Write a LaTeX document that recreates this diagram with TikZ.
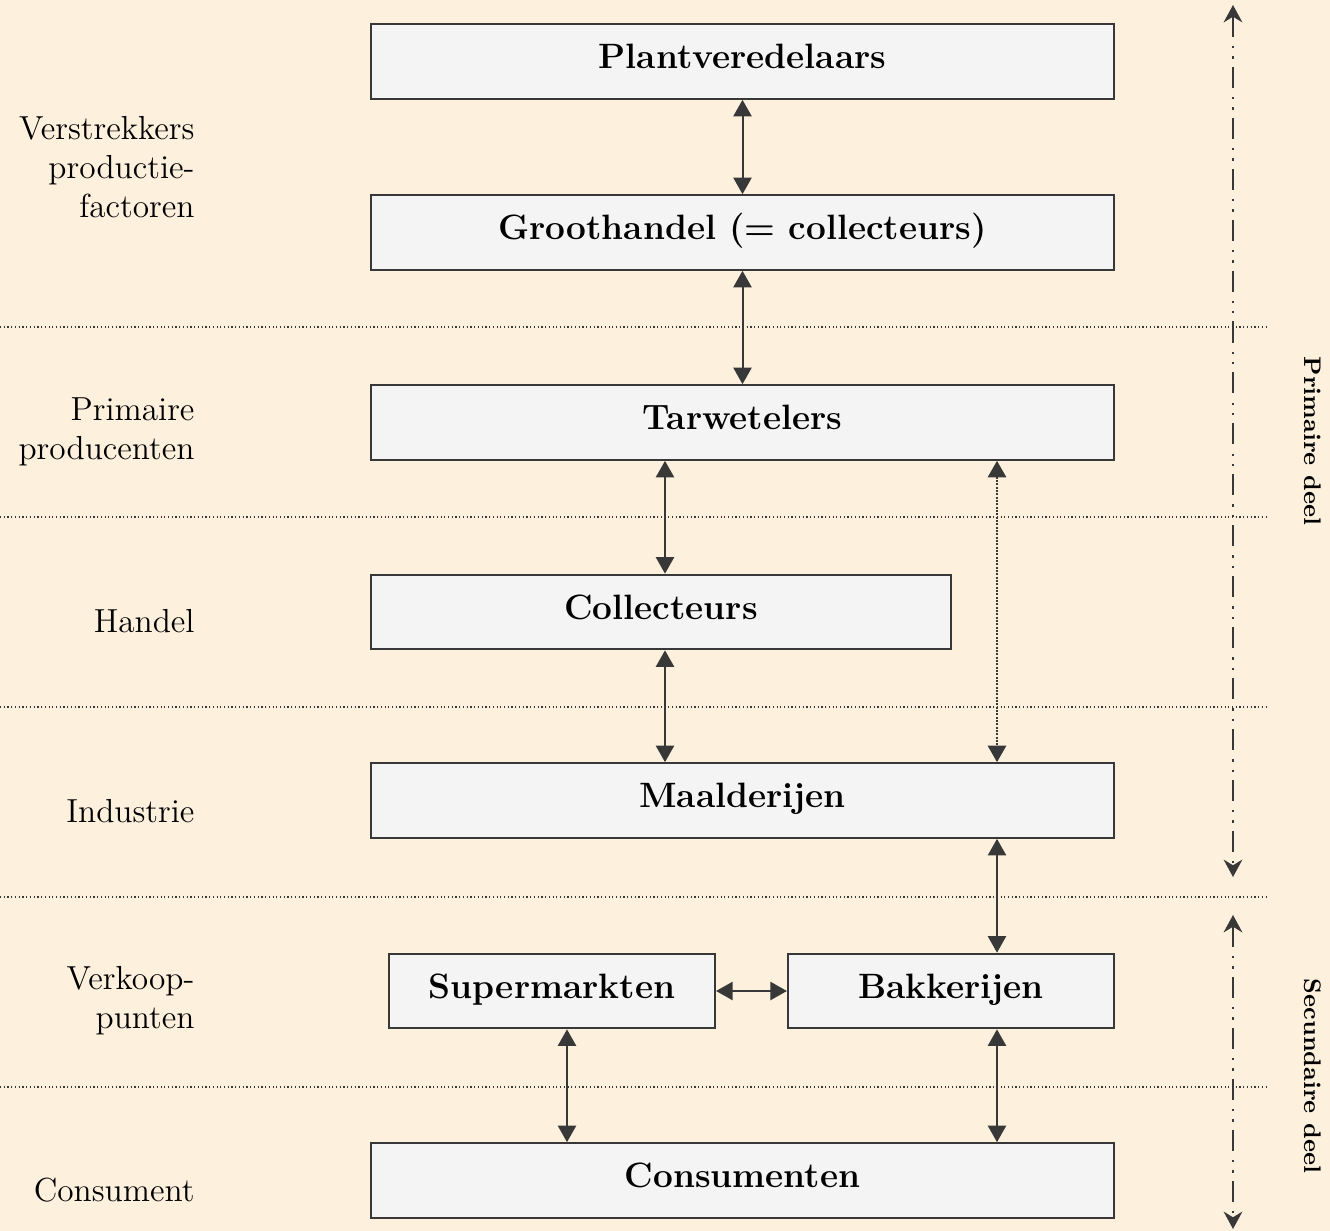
\documentclass[tikz,border=0pt]{standalone}
\usetikzlibrary{arrows.meta}
\definecolor{bgbeige}{HTML}{FDF0DD}
\definecolor{boxgray}{HTML}{F4F4F4}
\definecolor{linegray}{HTML}{383838}
\tikzset{
  blok/.style={draw=linegray, line width=0.75pt, fill=boxgray, inner sep=0pt,
    minimum width=278.6pt, minimum height=28pt, text height=9.5pt, text depth=4pt,
    font=\fontsize{13.2}{15}\selectfont\bfseries},
  laag/.style={anchor=east, align=right, inner sep=0pt, font=\fontsize{12.5}{14.6}\selectfont},
  deelnaam/.style={inner sep=0pt, font=\fontsize{9}{11}\selectfont\bfseries},
  pijl/.style={linegray, line width=0.75pt,
    {Triangle[width=6.8pt,length=6.2pt]}-{Triangle[width=6.8pt,length=6.2pt]}},
  stippijl/.style={pijl, line width=1pt, dash pattern=on 0.75pt off 0.5pt},
  scheiding/.style={linegray, line width=0.4pt, dash pattern=on 0.45pt off 0.95pt},
  deel/.style={linegray, line width=0.9pt,
    dash pattern=on 7.9pt off 3.4pt on 0.9pt off 3pt on 0.9pt off 3pt,
    {Stealth[width=7pt,length=6.5pt]}-{Stealth[width=7pt,length=6.5pt]}},
}
\begin{document}
\begin{tikzpicture}[x=0.375pt, y=-0.375pt]
\fill[bgbeige] (0,0) rectangle (1330,1231);
\useasboundingbox (0,0) rectangle (1330,1231);
% layers
\foreach \y in {327,517,707,897,1087}
  \draw[scheiding] (0,\y) -- (1268,\y);
\node[laag] (lvp) at (195,167) {Verstrekkers\\productie-\\factoren};
\node[laag] (lpp) at (195,432) {Primaire\\producenten};
\node[laag] (lha) at (195,621) {Handel};
\node[laag] (lin) at (195,811) {Industrie};
\node[laag] (lvk) at (195,1001) {Verkoop-\\punten};
\node[laag] (lco) at (195,1190) {Consument};
% chain
\node[blok] (pv) at (742.5,61.5) {Plantveredelaars};
\node[blok] (gh) at (742.5,232.5) {Groothandel (= collecteurs)};
\node[blok] (tw) at (742.5,422.5) {Tarwetelers};
\node[blok, minimum width=217.5pt] (col) at (661,612) {Collecteurs};
\node[blok] (md) at (742.5,800.5) {Maalderijen};
\node[blok, minimum width=122.3pt] (sm) at (552,991) {Supermarkten};
\node[blok, minimum width=122.3pt] (bk) at (951,991) {Bakkerijen};
\node[blok] (con) at (742.5,1180.5) {Consumenten};
\coordinate (mx) at (665,0);
\coordinate (rx) at (997,0);
\coordinate (lx) at (567,0);
\draw[pijl] (pv) -- (gh);
\draw[pijl] (gh) -- (tw);
\draw[pijl] (tw.south -| mx) -- (col.north -| mx);
\draw[pijl] (col.south -| mx) -- (md.north -| mx);
\draw[stippijl] (tw.south -| rx) -- (md.north -| rx);
\draw[pijl] (md.south -| rx) -- (bk.north -| rx);
\draw[pijl] (sm) -- (bk);
\draw[pijl] (sm.south -| lx) -- (con.north -| lx);
\draw[pijl] (bk.south -| rx) -- (con.north -| rx);
% parts
\coordinate (pd1) at (1233,5);
\coordinate (pd2) at (1233,877);
\coordinate (sd1) at (1233,915);
\coordinate (sd2) at (1233,1229);
\draw[deel] (pd1) -- (pd2);
\draw[deel] (sd1) -- (sd2);
\node[deelnaam, rotate=-90] (pd) at (1313,441) {Primaire deel};
\node[deelnaam, rotate=-90] (sd) at (1313,1076) {Secundaire deel};
\end{tikzpicture}
\end{document}
